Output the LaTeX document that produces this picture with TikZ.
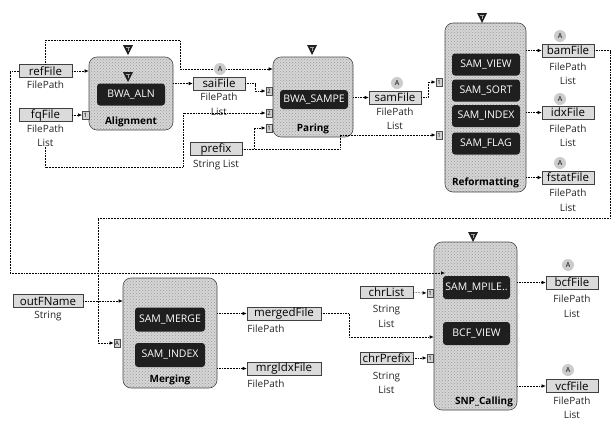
\documentclass[tikz,border=0pt]{standalone}
\usepackage{fontspec}
\setmainfont{Open Sans}
\usetikzlibrary{arrows.meta,patterns,calc}
\begin{document}
\begin{tikzpicture}[x=1pt,y=-1pt,
 task/.style={draw=gray!60!black, rounded corners=8pt, preaction={fill=gray!32}, pattern=crosshatch dots, pattern color=gray!80, line width=0.6pt, inner sep=0pt},
 blk/.style={fill=black!88, rounded corners=3pt, text=white, font=\fontsize{10.5}{11}\selectfont, minimum width=68pt, minimum height=22pt, inner sep=0pt},
 dat/.style={draw=black!75, fill=gray!28, font=\fontsize{11.5}{12}\selectfont, inner sep=0pt, minimum height=13pt, line width=0.6pt},
 lbl/.style={font=\fontsize{10}{14.5}\selectfont, inner sep=0pt, align=center, text=black!85},
 port/.style={draw=black!70, fill=gray!35, inner sep=0pt, minimum width=6.5pt, minimum height=8.5pt, font=\fontsize{6}{6}\selectfont},
 acirc/.style={circle, fill=gray!40, inner sep=0pt, minimum size=12pt, font=\fontsize{7}{7}\selectfont},
 tlabel/.style={font=\fontsize{10}{10}\selectfont\bfseries, inner sep=0pt},
 conn/.style={densely dotted, line width=0.55pt, -{Latex[length=4pt,width=3.5pt]}},
 tmark/.pic={\fill[gray!25!black] (-5,0) -- (5,0) -- (0,10) -- cycle;
   \draw[gray!70, line width=0.4pt] (-2,2) -- (2,2) (0,2) -- (0,6);}
]
\useasboundingbox (0,0) rectangle (614,421);
\fill[white] (0,0) rectangle (614,421);

% ---------- Alignment ----------
\node[dat, minimum width=53pt] (refFile) at (45.5,71) {refFile};
\node[lbl] (refFileT) at (45.5,85) {FilePath};
\node[dat, minimum width=53pt] (fqFile) at (45.5,115) {fqFile};
\node[lbl] (fqFileT) at (45.5,135.5) {FilePath\\List};

\node[task, minimum width=84pt, minimum height=73pt] (align) at (131,93.5) {};
\node[blk] (bwaaln) at (131,94.5) {BWA\_ALN};
\node[tlabel] (alignT) at (131,122) {Alignment};
\pic at (128,45) {tmark};
\pic at (128,72) {tmark};
\node[port] (pA1) at (85.5,115) {1};

% ---------- Paring ----------
\node[dat, minimum width=52pt] (sai) at (219,83.5) {saiFile};
\node[lbl] (saiT) at (219,104) {FilePath\\List};
\node[task, minimum width=80pt, minimum height=80pt] (paring) at (313,97) {};
\node[blk, minimum height=19pt] (bwasampe) at (314,99.5) {BWA\_SAMPE};
\node[tlabel] (paringT) at (313,129) {Paring};
\pic at (312,45) {tmark};
\node[port] (pP2a) at (269,91) {2};
\node[port] (pP2b) at (269,113) {2};
\node[port] (pP1) at (269,128) {1};
\node[dat, minimum width=52pt] (prefix) at (216,149) {prefix};
\node[lbl] (prefixT) at (216,165) {String List};
\node[dat, minimum width=52pt] (sam) at (395,97.5) {samFile};
\node[lbl] (samT) at (395,118.5) {FilePath\\List};

% ---------- Reformatting ----------
\node[task, minimum width=81pt, minimum height=169pt] (reform) at (485.5,107.5) {};
\node[blk] (sview) at (486,64.5) {SAM\_VIEW};
\node[blk] (ssort) at (486,90.5) {SAM\_SORT};
\node[blk] (sindex) at (486,116) {SAM\_INDEX};
\node[blk] (sflag) at (486,143.5) {SAM\_FLAG};
\node[tlabel] (reformT) at (485.5,183) {Reformatting};
\pic at (482,13) {tmark};
\node[port] (pR1) at (439,82) {1};
\node[port] (pR2) at (439,135) {1};
\node[dat, minimum width=52pt] (bam) at (568,50.5) {bamFile};
\node[lbl] (bamT) at (568,73.5) {FilePath\\List};
\node[dat, minimum width=52pt] (idx) at (568,112.5) {idxFile};
\node[lbl] (idxT) at (568,135.5) {FilePath\\List};
\node[dat, minimum width=52pt] (fstat) at (568,177.5) {fstatFile};
\node[lbl] (fstatT) at (568,200) {FilePath\\List};

% ---------- Merging ----------
\node[dat, minimum width=70pt] (outF) at (48,301) {outFName};
\node[lbl] (outFT) at (48,316) {String};
\node[task, minimum width=94pt, minimum height=110pt] (merg) at (170,333) {};
\node[blk, minimum width=70pt, minimum height=24pt] (smerge) at (170,319.5) {SAM\_MERGE};
\node[blk, minimum width=70pt, minimum height=24pt] (sindex2) at (170,355) {SAM\_INDEX};
\node[tlabel] (mergT) at (170,380) {Merging};
\node[port] (pMA) at (117,343) {A};
\node[dat, minimum width=74pt] (mergedF) at (284,313.5) {mergedFile};
\node[lbl] (mergedFT) at (266,329) {FilePath};
\node[dat, minimum width=74pt] (mrgIdx) at (284,368.5) {mrgIdxFile};
\node[lbl] (mrgIdxT) at (266,384) {FilePath};

% ---------- SNP_Calling ----------
\node[task, minimum width=83pt, minimum height=168pt] (snp) at (475.5,326) {};
\node[blk, minimum width=67pt, minimum height=23pt] (mpile) at (476.5,287.5) {SAM\_MPILE..};
\node[blk, minimum width=67pt, minimum height=23pt] (bcfview) at (476.5,333.5) {BCF\_VIEW};
\node[tlabel] (snpT) at (484,402) {SNP\_Calling};
\pic at (473,232) {tmark};
\node[dat, minimum width=53pt, minimum height=12pt] (chrList) at (386.5,292.5) {chrList};
\node[lbl] (chrListT) at (386.5,316.5) {String\\List};
\node[port] (pC1) at (430,293) {1};
\node[dat, minimum width=53pt, minimum height=12pt] (chrPrefix) at (386.5,358) {chrPrefix};
\node[lbl] (chrPrefixT) at (386.5,383) {String\\List};
\node[port] (pC2) at (430,358) {1};
\node[dat, minimum width=52pt] (bcf) at (572,282.5) {bcfFile};
\node[lbl] (bcfT) at (572,306) {FilePath\\List};
\node[dat, minimum width=52pt] (vcf) at (572,386) {vcfFile};
\node[lbl] (vcfT) at (572,407.5) {FilePath\\List};

% ---------- helper coordinates ----------
\coordinate (r1) at (180,40);
\coordinate (r2) at (0,69);
\coordinate (l1) at (10,273);
\coordinate (l2) at (445,273);
\coordinate (f2) at (183,167);
\coordinate (s1) at (255,91);
\coordinate (p1) at (254,128);
\coordinate (p2) at (340,135);
\coordinate (m0) at (428,82);
\coordinate (b1) at (610,218);
\coordinate (b2) at (98,343);
\coordinate (g1) at (349,337);

% ---------- connectors ----------
\draw[conn] (refFile.east) -- (refFile.east -| align.west);
\draw[conn] (refFile.north) |- (r1) |- (paring.west |- r2);
\draw[conn] (refFile.west) -| (l1) -- (l2);
\draw[conn] (fqFile.east) -- (pA1.west);
\draw[conn] (fqFileT.south) |- (f2) |- (pP2b.west);
\draw[conn] (align.east |- sai.west) -- (sai.west);
\draw[conn] (sai.east) -| (s1) -- (pP2a.west);
\draw[conn] (prefix.east) -| (p1) -- (pP1.west);
\draw[conn] (prefix.east) -| (p2) -- (pR2.west);
\draw[conn] (paring.east |- sam.west) -- (sam.west);
\draw[conn] (sam.east) -| (m0) -- (pR1.west);
\draw[conn] (reform.east |- bam.west) -- (bam.west);
\draw[conn] (reform.east |- idx.west) -- (idx.west);
\draw[conn] (reform.east |- fstat.west) -- (fstat.west);
\draw[conn] (bam.east) -| (b1) -| (b2) -- (pMA.west);
\draw[conn] (outF.east) -- (merg.west |- outF.east);
\draw[conn] (merg.east |- mergedF.west) -- (mergedF.west);
\draw[conn] (merg.east |- mrgIdx.west) -- (mrgIdx.west);
\draw[conn] (mergedF.east) -| (g1) -- (snp.west |- g1);
\draw[conn] (chrList.east) -- (pC1.west);
\draw[conn] (chrPrefix.east) -- (pC2.west);
\draw[conn] (snp.east |- bcf.west) -- (bcf.west);
\draw[conn] (snp.east |- vcf.west) -- (vcf.west);

% ---------- A markers ----------
\node[acirc] (aSai) at (220,69) {A};
\node[acirc] (aSam) at (397,83) {A};
\node[acirc] (aBam) at (560,36) {A};
\node[acirc] (aIdx) at (560,99) {A};
\node[acirc] (aFstat) at (560,163) {A};
\node[acirc] (aBcf) at (568,265) {A};
\node[acirc] (aVcf) at (568,370) {A};
\end{tikzpicture}
\end{document}
